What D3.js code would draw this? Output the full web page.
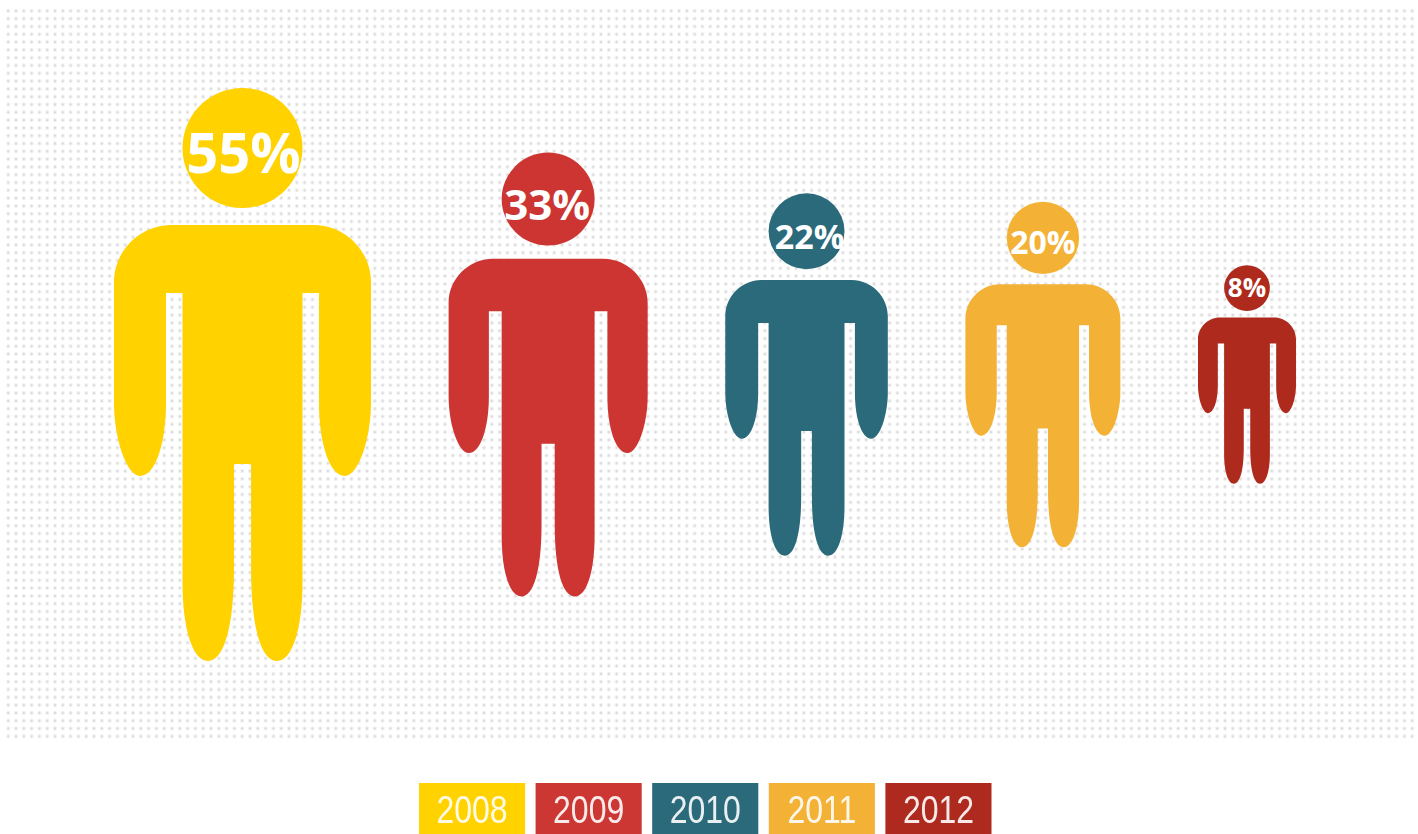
<!DOCTYPE html>
<html>
<head>
<meta charset="utf-8">
<script src="https://cdnjs.cloudflare.com/ajax/libs/d3/7.8.5/d3.min.js"></script>
<style>
  html, body { margin: 0; padding: 0; background: #fff; overflow: hidden; }
  svg { display: block; }
</style>
</head>
<body>
<div id="chart"></div>
<script>
const years = ["2008", "2009", "2010", "2011", "2012"]
const shares = [55, 33, 22, 20, 8]
const colors = ["#FFD200", "#CC3633", "#2A6A7A", "#F3B236", "#AE2A1E"]

const width = 1418, height = 834
const fullHeight = 573        // height of the biggest person, people are scaled by area
const bodyWidth = 257
const midY = 374.5
const firstLeft = 114, gap = 77.6

// label tweaks per person, the labels sit a bit off centre in the heads
const labelSizes = [56, 42, 34, 32, 26]
const labelDx = [1, -1, 3, 0, 0]
const labelDy = [1, 3, 3, 3, -2]

const svg = d3.select("#chart").append("svg")
  .attr("width", width)
  .attr("height", height)

const defs = svg.append("defs")

// dotted background
const pattern = defs.append("pattern")
  .attr("id", "dots")
  .attr("patternUnits", "userSpaceOnUse")
  .attr("x", 4.3).attr("y", 7)
  .attr("width", 7.8).attr("height", 7.8)
pattern.append("circle")
  .attr("cx", 3.9).attr("cy", 3.9).attr("r", 1.9)
  .attr("fill", "#ebebeb")
pattern.append("circle")
  .attr("cx", 3.9).attr("cy", 3.9).attr("r", 0.9)
  .attr("fill", "#d8d8d8")

defs.append("filter").attr("id", "soft")
  .append("feGaussianBlur").attr("stdDeviation", 0.6)
defs.append("filter").attr("id", "softText")
  .append("feGaussianBlur").attr("stdDeviation", 0.35)

svg.append("rect")
  .attr("x", 4.3).attr("y", 7)
  .attr("width", 1413).attr("height", 735)
  .attr("fill", "url(#dots)")

// The person, drawn at the size of the biggest one with x=0 on the centre line
function bodyPath() {
  const p = d3.path()
  p.moveTo(-71.5, 137)
  p.lineTo(71.5, 137)
  p.bezierCurveTo(102.5, 137, 128.5, 163, 128.5, 194)
  p.lineTo(128.5, 315)
  p.bezierCurveTo(128.5, 350, 116, 388, 102.5, 388)
  p.bezierCurveTo(87, 388, 76.5, 355, 76.5, 315)
  p.lineTo(76.5, 205)
  p.lineTo(60, 205)
  p.lineTo(60, 495)
  p.bezierCurveTo(60, 540, 50, 573, 34.5, 573)
  p.bezierCurveTo(19, 573, 8.5, 540, 8.5, 480)
  p.lineTo(8.5, 376)
  p.lineTo(-8.5, 376)
  p.lineTo(-8.5, 480)
  p.bezierCurveTo(-8.5, 540, -19, 573, -34.5, 573)
  p.bezierCurveTo(-50, 573, -60, 540, -60, 495)
  p.lineTo(-60, 205)
  p.lineTo(-76.5, 205)
  p.lineTo(-76.5, 315)
  p.bezierCurveTo(-76.5, 355, -87, 388, -102.5, 388)
  p.bezierCurveTo(-116, 388, -128.5, 350, -128.5, 315)
  p.lineTo(-128.5, 194)
  p.bezierCurveTo(-128.5, 163, -102.5, 137, -71.5, 137)
  p.closePath()
  return p.toString()
}

const sizeScale = d3.scaleSqrt()
  .domain([0, d3.max(shares)])
  .range([0, fullHeight])

let left = firstLeft

years.forEach(function(year, i) {
  const h = sizeScale(shares[i])
  const k = h / fullHeight
  const w = bodyWidth * k
  const cx = left + w / 2
  const top = midY - h / 2
  left += w + gap

  const person = svg.append("g")
    .attr("class", "person")
    .attr("transform", `translate(${cx},${top}) scale(${k})`)

  person.append("path")
    .attr("d", bodyPath())
    .attr("fill", colors[i])
    .attr("filter", "url(#soft)")

  person.append("circle")
    .attr("cx", 0)
    .attr("cy", 60)
    .attr("r", 60)
    .attr("fill", colors[i])
    .attr("filter", "url(#soft)")

  svg.append("text")
    .attr("x", cx + labelDx[i])
    .attr("y", top + 60 * k + labelSizes[i] * 0.42 + labelDy[i])
    .attr("text-anchor", "middle")
    .style("font-family", "'Open Sans', sans-serif")
    .style("font-weight", 700)
    .style("font-size", labelSizes[i] + "px")
    .attr("fill", "#fff")
    .text(shares[i] + "%")
})

// Legend tiles run off the bottom of the picture
const legendX = d3.scaleBand()
  .domain(years)
  .range([419, 991.5])
  .paddingInner(0.09)

const legend = svg.append("g").attr("class", "legend")

legend.selectAll("rect")
  .data(years)
  .enter().append("rect")
  .attr("x", function(d) { return legendX(d) })
  .attr("y", 783)
  .attr("width", legendX.bandwidth())
  .attr("height", 51)
  .attr("fill", function(d, i) { return colors[i] })

// no narrow font installed, so squeeze the years sideways
legend.selectAll("text")
  .data(years)
  .enter().append("text")
  .attr("transform", function(d) {
    return `translate(${legendX(d) + legendX.bandwidth() / 2},823) scale(0.82,1)`
  })
  .attr("text-anchor", "middle")
  .style("font-family", "'Liberation Sans', sans-serif")
  .style("font-size", "39px")
  .attr("fill", "#fff")
  .attr("opacity", 0.9)
  .attr("filter", "url(#softText)")
  .text(function(d) { return d })
</script>
</body>
</html>
